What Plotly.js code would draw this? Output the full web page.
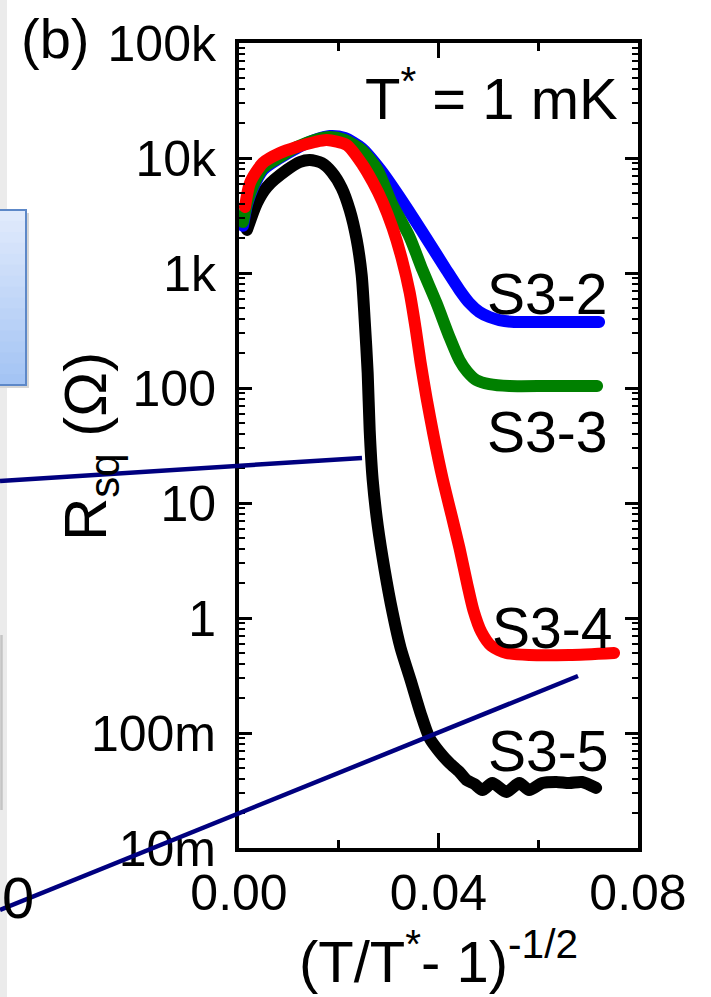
<!DOCTYPE html>
<html>
<head>
<meta charset="utf-8">
<script src="https://cdn.plot.ly/plotly-3.0.1.min.js"></script>
<style>
  html, body { margin: 0; padding: 0; background: #ffffff; }
  #chart { width: 711px; height: 997px; }
  .scatterlayer path.js-line { stroke-linecap: round; stroke-linejoin: round; }
</style>
</head>
<body>
<div id="chart"></div>
<script>
// Sheet resistance versus (T/T* - 1)^(-1/2), with T* = 1 mK, for four samples.
const xS32 = [0.0008, 0.0016, 0.0028, 0.0048, 0.0082, 0.0116, 0.0152, 0.0182, 0.0212, 0.0246, 0.0284, 0.0330, 0.0374, 0.0416, 0.0442, 0.0462, 0.0482, 0.0502, 0.0522, 0.0552, 0.0602, 0.0662, 0.0722];
const rS32 = [2570, 3900, 5480, 7870, 10000, 12200, 14350, 15540, 14930, 12200, 7870, 4060, 2060, 1060, 712, 548, 458, 414, 390, 375, 375, 375, 375];

const xS33 = [0.0008, 0.0016, 0.0028, 0.0048, 0.0082, 0.0116, 0.0152, 0.0182, 0.0212, 0.0246, 0.0278, 0.0306, 0.0342, 0.0368, 0.0396, 0.0422, 0.0442, 0.0458, 0.0476, 0.0502, 0.0542, 0.0622, 0.0718];
const rS33 = [2780, 4060, 5710, 8190, 10200, 12470, 14350, 15230, 14350, 11740, 7870, 4060, 2060, 1060, 548, 278, 175, 138, 117, 108, 104, 104, 104];

const xS34 = [0.0012, 0.0022, 0.0048, 0.0082, 0.0116, 0.0152, 0.0176, 0.0216, 0.0248, 0.0268, 0.0288, 0.0308, 0.0326, 0.0342, 0.0354, 0.0364, 0.0376, 0.0390, 0.0408, 0.0426, 0.0442, 0.0458, 0.0470, 0.0486, 0.0506, 0.0536, 0.0582, 0.0662, 0.0752];
const rS34 = [3750, 6070, 9060, 11050, 12470, 13780, 14350, 12970, 8690, 6190, 4140, 2460, 1350, 683, 333, 168, 81.9, 39.0, 16.5, 7.87, 4.06, 1.94, 1.17, 0.756, 0.571, 0.497, 0.477, 0.477, 0.497];

const xS35 = [0.0016, 0.0036, 0.0056, 0.0096, 0.0122, 0.0142, 0.0166, 0.0186, 0.0206, 0.0222, 0.0236, 0.0246, 0.0252, 0.0258, 0.0262, 0.0268, 0.0278, 0.0292, 0.0308, 0.0324, 0.0344, 0.0364, 0.0382, 0.0402, 0.0422, 0.0442, 0.0456, 0.0472, 0.0488, 0.0508, 0.0536, 0.0562, 0.0582, 0.0608, 0.0636, 0.0662, 0.0688, 0.0716];
const rS35 = [2370, 4060, 5600, 7870, 9230, 9610, 9050, 7550, 5480, 3530, 1940, 960, 390, 135, 43.1, 15.9, 6.44, 2.62, 1.11, 0.548, 0.289, 0.149, 0.0905, 0.0684, 0.0548, 0.0458, 0.0390, 0.0360, 0.0319, 0.0367, 0.0307, 0.0367, 0.0319, 0.0367, 0.0375, 0.0367, 0.0375, 0.0333];

const sampleNames = ['S3-5', 'S3-2', 'S3-3', 'S3-4'];
const sampleColors = ['#000000', '#0000ff', '#008000', '#ff0000'];

const yTickVals = [0.01, 0.1, 1, 10, 100, 1000, 10000, 100000];
const yTickText = ['10m', '100m', '1', '10', '100', '1k', '10k', '100k'];
const xTickVals = [0, 0.04, 0.08];
const xTickText = ['0.00', '0.04', '0.08'];
const xMinorVals = [0.02, 0.06];

// log minor ticks: 2..9 within each decade
const yMinorVals = [];
for (let e = -2; e < 5; e++) {
  for (let m = 2; m <= 9; m++) yMinorVals.push(m * Math.pow(10, e));
}

const FONT = 'Liberation Sans, Arial, Helvetica, sans-serif';

// page-pixel -> paper coordinates (plot frame spans 239..638 by 43..848)
const FL = 239, FR = 638, FT = 43, FB = 848;
const px = x => (x - FL) / (FR - FL);
const py = y => (FB - y) / (FB - FT);

const seriesX = [xS35, xS32, xS33, xS34];
const seriesY = [rS35, rS32, rS33, rS34];

const traces = sampleNames.map((name, i) => ({
  type: 'scatter',
  mode: 'lines',
  name: name,
  x: seriesX[i],
  y: seriesY[i],
  line: { color: sampleColors[i], width: 12, shape: 'spline', smoothing: 0.7 },
  hoverinfo: 'x+y+name'
}));

const labelFont = { family: FONT, size: 57, color: '#000' };

const annotations = [
  { text: '(b)', x: px(19), y: py(39), xanchor: 'left', yanchor: 'middle', font: { family: FONT, size: 56, color: '#000' } },
  { text: 'T<sup>*</sup> = 1 mK', x: px(620), y: py(94), xanchor: 'right', yanchor: 'middle', font: { family: FONT, size: 58, color: '#000' } },
  { text: 'S3-2', x: px(547), y: py(294), xanchor: 'center', yanchor: 'middle', font: labelFont },
  { text: 'S3-3', x: px(547), y: py(432), xanchor: 'center', yanchor: 'middle', font: labelFont },
  { text: 'S3-4', x: px(552), y: py(628), xanchor: 'center', yanchor: 'middle', font: labelFont },
  { text: 'S3-5', x: px(548), y: py(751), xanchor: 'center', yanchor: 'middle', font: labelFont },
  { text: 'R<sub>sq</sub> (\u03A9)', x: px(90), y: py(447), xanchor: 'center', yanchor: 'middle', textangle: -90, font: { family: FONT, size: 60, color: '#000' } },
  { text: '0', x: px(18), y: py(898), xanchor: 'center', yanchor: 'middle', font: { family: FONT, size: 58, color: '#000' } }
].map(a => Object.assign({ xref: 'paper', yref: 'paper', showarrow: false }, a));

// callout boxes and pointer lines around the panel
const P = { xref: 'paper', yref: 'paper' };
const shapes = [
  Object.assign({ type: 'rect', layer: 'below', x0: px(0), x1: px(7), y0: py(0), y1: py(997), line: { width: 0 }, fillcolor: '#ebebeb' }, P),
  Object.assign({ type: 'line', layer: 'below', x0: px(1.5), x1: px(1.5), y0: py(635), y1: py(810), line: { color: '#c4c4c4', width: 2.5 } }, P),
  Object.assign({ type: 'rect', layer: 'below', x0: px(0), x1: px(29), y0: py(213), y1: py(388), line: { width: 0 }, fillcolor: '#d6d6d6' }, P)
];
// vertical gradient box (light to medium blue)
const boxTop = 210, boxBot = 385, steps = 16;
const c0 = [224, 234, 252], c1 = [164, 196, 244];
for (let k = 0; k < steps; k++) {
  const t = k / (steps - 1);
  const c = c0.map((v, j) => Math.round(v + (c1[j] - v) * t));
  const ya = boxTop + (boxBot - boxTop) * k / steps;
  const yb = boxTop + (boxBot - boxTop) * (k + 1) / steps;
  shapes.push(Object.assign({ type: 'rect', layer: 'below', x0: px(0), x1: px(26), y0: py(ya), y1: py(yb + 0.6), line: { width: 0 }, fillcolor: `rgb(${c[0]},${c[1]},${c[2]})` }, P));
}
shapes.push(Object.assign({ type: 'rect', layer: 'below', x0: px(-5), x1: px(26), y0: py(boxTop), y1: py(boxBot), line: { color: '#5d88c8', width: 2 }, fillcolor: 'rgba(0,0,0,0)' }, P));
shapes.push(Object.assign({ type: 'line', layer: 'above', x0: px(0), y0: py(481), x1: px(362), y1: py(458), line: { color: '#00007f', width: 4.5 } }, P));
shapes.push(Object.assign({ type: 'line', layer: 'above', x0: px(0), y0: py(910), x1: px(578), y1: py(676), line: { color: '#00007f', width: 4.5 } }, P));

const layout = {
  width: 711,
  height: 997,
  margin: { l: FL, r: 711 - FR, t: FT, b: 997 - FB, pad: 0 },
  paper_bgcolor: '#ffffff',
  plot_bgcolor: '#ffffff',
  showlegend: false,
  font: { family: FONT, color: '#000' },
  xaxis: {
    range: [0, 0.08],
    tickmode: 'array',
    tickvals: xTickVals,
    ticktext: xTickText,
    ticks: 'inside',
    ticklen: 15,
    tickwidth: 3,
    tickcolor: '#000',
    minor: { ticks: 'inside', tickmode: 'array', tickvals: xMinorVals, ticklen: 8, tickwidth: 3, tickcolor: '#000' },
    showline: true,
    linewidth: 4,
    linecolor: '#000',
    mirror: 'allticks',
    showgrid: false,
    zeroline: false,
    ticklabelstandoff: -2,
    tickfont: { family: FONT, size: 50, color: '#000' },
    title: { text: '(T/T<sup>*</sup>- 1)<sup>-1/2</sup>', font: { family: FONT, size: 58, color: '#000' }, standoff: 10 },
    automargin: false
  },
  yaxis: {
    type: 'log',
    range: [-2, 5],
    tickmode: 'array',
    tickvals: yTickVals,
    ticktext: yTickText,
    ticks: 'inside',
    ticklen: 13,
    tickwidth: 3,
    tickcolor: '#000',
    minor: { ticks: 'inside', tickmode: 'array', tickvals: yMinorVals, ticklen: 6, tickwidth: 2, tickcolor: '#000' },
    showline: true,
    linewidth: 4,
    linecolor: '#000',
    mirror: 'allticks',
    showgrid: false,
    zeroline: false,
    ticklabelstandoff: 9,
    tickfont: { family: FONT, size: 50, color: '#000' },
    automargin: false
  },
  annotations: annotations,
  shapes: shapes
};

Plotly.newPlot('chart', traces, layout, { displayModeBar: false, staticPlot: true });
</script>
</body>
</html>
